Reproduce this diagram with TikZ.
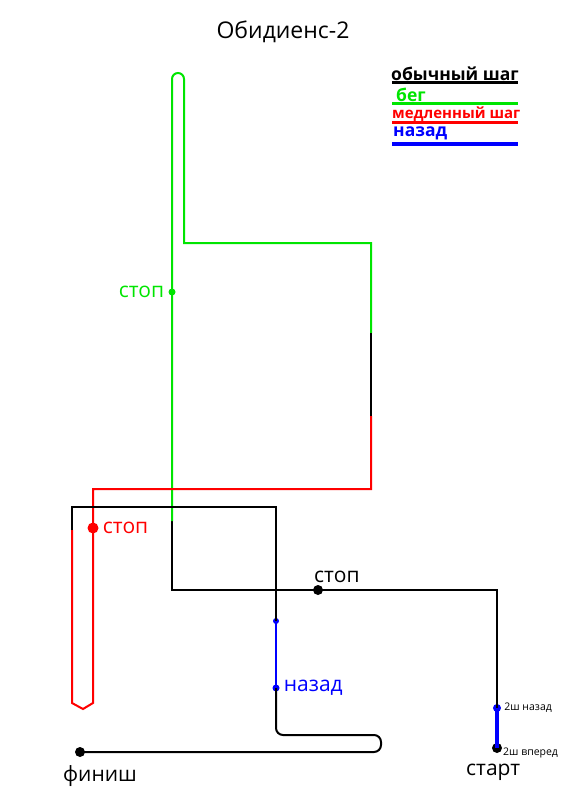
\documentclass[tikz,border=0pt]{standalone}
\usepackage{fontspec}
\setmainfont{Open Sans}
\usetikzlibrary{positioning}

\begin{document}
\begin{tikzpicture}[
  x=1pt,y=-1pt,
  walk/.style={line width=2pt,black,line join=miter},
  slow/.style={line width=2pt,red},
  back/.style={line width=2pt,blue},
  dot/.style={circle,fill,inner sep=0pt,minimum size=#1},
  lbl/.style={font=\fontsize{21}{23}\selectfont,inner sep=1pt},
  legend/.style={font=\bfseries\fontsize{17.5}{19}\selectfont,inner sep=1pt,anchor=west},
  small/.style={font=\fontsize{10.5}{11}\selectfont,inner sep=0pt,anchor=west}
]
\colorlet{runc}{green!90!black}
\useasboundingbox (0,0) rectangle (564,800);
\node[font=\fontsize{23}{26}\selectfont] (title) at (283,32) {Обидиенс-2};

% legend
\node[legend] (lwalk) at (390,74) {обычный шаг};
\node[legend,text=runc] (lrun) at (395,95) {бег};
\node[legend,text=red,font=\bfseries\fontsize{15}{17}\selectfont] (lslow) at (391,114) {медленный шаг};
\node[legend,text=blue] (lback) at (392,133) {назад};
\draw[line width=3pt,black] (392,82) -- (518,82);
\draw[line width=3pt,runc] (392,103) -- (518,103);
\draw[line width=3pt,red] (392,122) -- (518,122);
\draw[line width=4pt,blue] (392,144) -- (518,144);

% points
\node[dot=10pt] (start) at (497,748) {};
\node[dot=8pt,blue] (back2) at (497,708) {};
\node[dot=10pt] (stopa) at (318,590) {};
\node[dot=7pt,runc] (stopb) at (172,292) {};
\node[dot=11pt,red] (stopc) at (93,528) {};
\node[dot=6pt,blue] (backa) at (276,621) {};
\node[dot=7pt,blue] (backb) at (276,688) {};
\node[dot=10pt] (finish) at (80,752) {};

\coordinate (c1) at (497,590);
\coordinate (c2) at (172,590);
\coordinate (c3) at (172,521);
\coordinate (c4) at (172,79);
\coordinate (c6) at (184,243);
\coordinate (c7) at (371,243);
\coordinate (c8) at (371,333);
\coordinate (c9) at (371,416);
\coordinate (c10) at (371,489);
\coordinate (c11) at (93,489);
\coordinate (c12) at (93,703);
\coordinate (c13) at (83,709);
\coordinate (c14) at (72,703);
\coordinate (c15) at (72,530);
\coordinate (c16) at (72,507);
\coordinate (c17) at (276,507);
\coordinate (c18) at (276,735);
\coordinate (c19) at (381,735);
\coordinate (c20) at (381,752);

% route
\draw[line width=4pt,blue] (start.center) -- (back2.center);
\draw[walk] (back2.center) -- (c1) -- (stopa.center) -- (c2) -- (c3);
\draw[line width=2pt,runc] (c3) -- (stopb.center) -- (c4) arc[start angle=180,end angle=360,radius=6] -- (c6) -- (c7) -- (c8);
\draw[walk] (c8) -- (c9);
\draw[slow] (c9) -- (c10) -- (c11) -- (stopc.center) -- (c12) -- (c13) -- (c14) -- (c15);
\draw[walk] (c15) -- (c16) -- (c17) -- (backa.center);
\draw[back] (backa.center) -- (backb.center);
\draw[walk,rounded corners=7pt] (backb.center) -- (c18) -- (c19) -- (c20) -- (finish.center);

% labels
\node[lbl,left=3pt of stopb,text=runc] (tstopb) {стоп};
\node[lbl,right=3pt of stopc,text=red] (tstopc) {стоп};
\node[lbl,anchor=south west] (tstopa) at (313,584) {стоп};
\node[lbl,right=3pt of backb,text=blue] (tbackb) {назад};
\node[lbl,anchor=north west] (tfinish) at (62,764) {финиш};
\node[lbl,anchor=north west,inner sep=0pt] (tstart) at (466,764) {старт};
\node[small,right=3pt of back2] (tback2) {2ш назад};
\node[small] (tfwd) at (503,753) {2ш вперед};
\end{tikzpicture}
\end{document}
